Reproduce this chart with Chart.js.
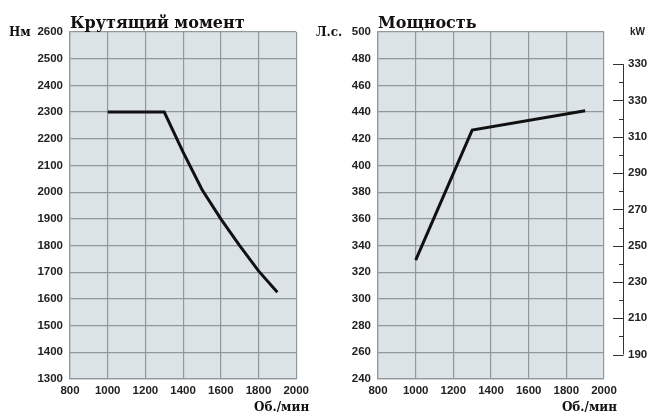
<!DOCTYPE html>
<html>
<head>
<meta charset="utf-8">
<script src="https://cdn.jsdelivr.net/npm/chart.js@4"></script>
<style>
    body { margin: 0; background: #fff; }
    #wrap { position: relative; width: 654px; height: 413px; }
    #torqueChart { position: absolute; left: 0; top: 0; }
    #powerChart { position: absolute; left: 314px; top: 0; }
</style>
</head>
<body>
<div id="wrap">
    <canvas id="torqueChart" width="314" height="413"></canvas>
    <canvas id="powerChart" width="340" height="413"></canvas>
</div>
<script>
// обороты и крутящий момент
const torqueRpm = [1000, 1300, 1400, 1500, 1600, 1700, 1800, 1900];
const torqueNm = [2300, 2300, 2150, 2010, 1900, 1800, 1705, 1625];

// обороты и мощность (л.с.)
const powerRpm = [1000, 1300, 1900];
const powerHp = [329, 426.5, 441];

// шкала kW справа
const kwTicks = [190, 210, 230, 250, 270, 290, 310, 330, 350];
const kwLabels = ['190', '210', '230', '250', '270', '290', '310', '330', '330'];
const kwMinor = [200, 220, 240, 260, 280, 300, 320, 340];
const HP_TO_KW = 0.7355;

document.addEventListener('DOMContentLoaded', function () {
    Chart.defaults.animation = false;
    Chart.defaults.responsive = false;

    const gridColor = '#8f989c';
    const plotBg = '#dce3e6';
    const tickFont = { family: 'Liberation Sans, Arial, sans-serif', size: 11.5, weight: 'bold' };
    const serif = 'DejaVu Serif, serif';
    const plain = v => String(v); // без разделителя тысяч

    // заливка области графика
    const plotBackground = {
        id: 'plotBackground',
        beforeDraw(chart) {
            const a = chart.chartArea;
            const c = chart.ctx;
            c.save();
            c.fillStyle = plotBg;
            c.fillRect(a.left, a.top, a.right - a.left, a.bottom - a.top);
            c.restore();
        }
    };

    // подписи: заголовок, единицы
    function labelsPlugin(title, unit, extra) {
        return {
            id: 'labels',
            afterDraw(chart) {
                const a = chart.chartArea;
                const c = chart.ctx;
                c.save();
                c.fillStyle = '#111';
                c.font = 'bold 16px ' + serif;
                c.textAlign = 'left';
                c.textBaseline = 'alphabetic';
                c.fillText(title, a.left, 28);

                c.font = 'bold 12px ' + serif;
                c.textBaseline = 'middle';
                c.fillText(unit.text, unit.x, a.top + 1);

                c.font = 'bold 12px ' + serif;
                c.textAlign = 'right';
                c.textBaseline = 'alphabetic';
                c.fillText('Об./мин', a.right + 13, 411);

                if (extra) extra(chart, c);
                c.restore();
            }
        };
    }

    function xScale() {
        return {
            type: 'linear',
            min: 800,
            max: 2000,
            ticks: { stepSize: 200, padding: 5, color: '#222', font: tickFont, callback: plain },
            grid: { color: gridColor, lineWidth: 1.2, drawTicks: false },
            border: { color: gridColor, width: 1.2 },
            afterFit: function (s) { s.height = 34; }
        };
    }

    const ctx = document.getElementById('torqueChart').getContext('2d');
    const torqueChart = new Chart(ctx, {
        type: 'line',
        data: {
            datasets: [{
                label: 'Крутящий момент',
                data: torqueRpm.map((x, i) => ({ x: x, y: torqueNm[i] })),
                borderColor: '#111',
                borderWidth: 3,
                pointRadius: 0,
                tension: 0
            }]
        },
        options: {
            layout: { padding: { top: 32, right: 15, left: 0, bottom: 0 } },
            plugins: { legend: { display: false }, tooltip: { enabled: false } },
            scales: {
                x: xScale(),
                y: {
                    min: 1300,
                    max: 2600,
                    ticks: { stepSize: 100, padding: 7, color: '#222', font: tickFont, callback: plain },
                    grid: { color: gridColor, lineWidth: 1.2, drawTicks: false },
                    border: { color: gridColor, width: 1.2 },
                    afterFit: function (s) { s.width = 70; }
                }
            }
        },
        plugins: [plotBackground, labelsPlugin('Крутящий момент', { text: 'Нм', x: 9 })]
    });

    // ось kW рисуем сами: линия снаружи, засечки внутрь
    function drawKwAxis(chart, c) {
        const s = chart.scales.kw;
        const lineX = s.left + 19;
        c.strokeStyle = '#333';
        c.lineWidth = 1;
        c.beginPath();
        c.moveTo(lineX + 0.5, s.getPixelForValue(kwTicks[0]));
        c.lineTo(lineX + 0.5, s.getPixelForValue(kwTicks[kwTicks.length - 1]));
        kwTicks.forEach(v => {
            const y = Math.round(s.getPixelForValue(v)) + 0.5;
            c.moveTo(lineX - 10, y);
            c.lineTo(lineX + 0.5, y);
        });
        kwMinor.forEach(v => {
            const y = Math.round(s.getPixelForValue(v)) + 0.5;
            c.moveTo(lineX - 4, y);
            c.lineTo(lineX + 0.5, y);
        });
        c.stroke();

        c.fillStyle = '#222';
        c.font = 'bold 10px Liberation Sans, Arial, sans-serif';
        c.textAlign = 'left';
        c.textBaseline = 'middle';
        c.fillText('kW', s.left + 26, chart.chartArea.top);
    }

    const ctx2 = document.getElementById('powerChart').getContext('2d');
    const powerChart = new Chart(ctx2, {
        type: 'line',
        data: {
            datasets: [{
                label: 'Мощность',
                data: powerRpm.map((x, i) => ({ x: x, y: powerHp[i] })),
                borderColor: '#111',
                borderWidth: 3,
                pointRadius: 0,
                tension: 0,
                yAxisID: 'y'
            }]
        },
        options: {
            layout: { padding: { top: 32, right: 0, left: 0, bottom: 0 } },
            plugins: { legend: { display: false }, tooltip: { enabled: false } },
            scales: {
                x: xScale(),
                y: {
                    min: 240,
                    max: 500,
                    ticks: { stepSize: 20, padding: 7, color: '#222', font: tickFont, callback: plain },
                    grid: { color: gridColor, lineWidth: 1.2, drawTicks: false },
                    border: { color: gridColor, width: 1.2 },
                    afterFit: function (s) { s.width = 64; }
                },
                kw: {
                    position: 'right',
                    min: 240 * HP_TO_KW,
                    max: 500 * HP_TO_KW,
                    afterBuildTicks: function (s) {
                        s.ticks = kwTicks.map(v => ({ value: v }));
                    },
                    ticks: {
                        padding: 24,
                        color: '#222',
                        font: tickFont,
                        callback: function (value) {
                            const i = kwTicks.indexOf(value);
                            return i >= 0 ? kwLabels[i] : '';
                        }
                    },
                    grid: { display: false, drawTicks: false },
                    border: { display: false },
                    afterFit: function (s) { s.width = 50; }
                }
            }
        },
        plugins: [plotBackground, labelsPlugin('Мощность', { text: 'Л.с.', x: 2 }, drawKwAxis)]
    });
});
</script>
</body>
</html>
